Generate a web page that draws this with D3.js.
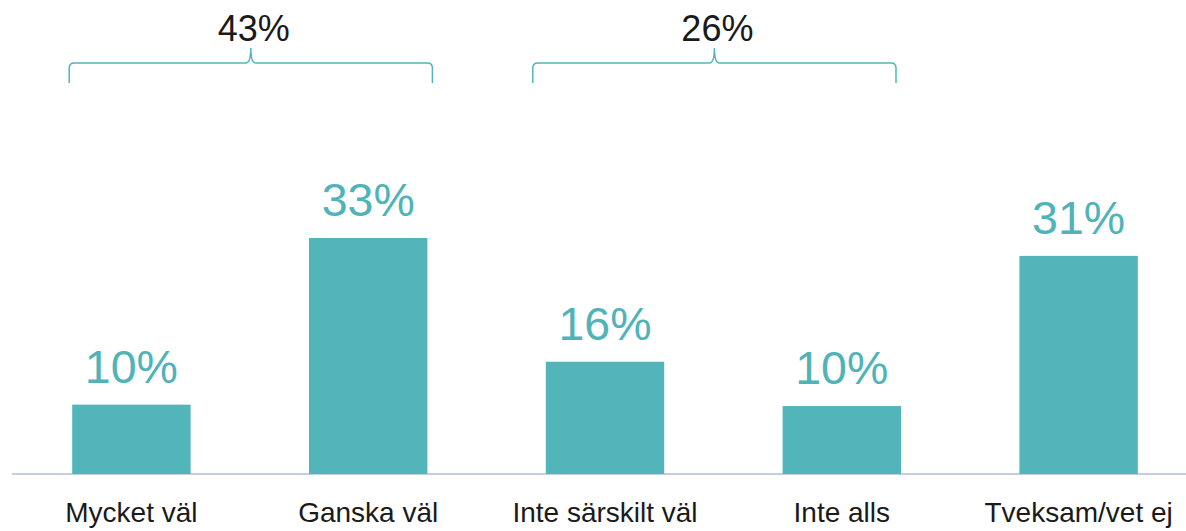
<!DOCTYPE html>
<meta charset="utf-8">
<style>
    body { margin: 0; background: #fff; font-family: "Liberation Sans", Arial, sans-serif; }
    .bar { fill: #52b5b9; }
    .value { fill: #4fb3b8; font-size: 46.5px; text-anchor: middle; }
    .cat { fill: #1a1a1a; font-size: 28px; text-anchor: middle; }
    .group { fill: #1a1a1a; font-size: 36px; text-anchor: middle; }
    .brace { fill: none; stroke: #52b5b9; stroke-width: 1.5px; }
    .baseline { stroke: #c3cfdf; stroke-width: 2px; }
</style>
<body>
<script src="https://cdnjs.cloudflare.com/ajax/libs/d3/7.8.5/d3.min.js"></script>
<script>
    // Data (bar lengths; labels are the rounded values)
    var categories = ["Mycket väl", "Ganska väl", "Inte särskilt väl", "Inte alls", "Tveksam/vet ej"];
    var values = [9.7, 33, 15.7, 9.5, 30.5];
    var labels = ["10%", "33%", "16%", "10%", "31%"];
    // Brackets over groups of categories
    var groupFrom = ["Mycket väl", "Inte särskilt väl"];
    var groupTo = ["Ganska väl", "Inte alls"];
    var groupLabels = ["43%", "26%"];

    var width = 1186, height = 531;
    var baseY = 474;
    // horizontal nudge of each bracket, as drawn in the original
    var braceShift = [0, -10];

    var svg = d3.select("body").append("svg")
        .attr("width", width)
        .attr("height", height);

    var x = d3.scaleBand()
        .domain(categories)
        .range([13, 1197])
        .paddingInner(0.5)
        .paddingOuter(0.25);

    var y = d3.scaleLinear()
        .domain([0, 33])
        .range([baseY, 238]);

    // Axis line
    svg.append("line")
        .attr("class", "baseline")
        .attr("x1", 12)
        .attr("x2", width)
        .attr("y1", baseY)
        .attr("y2", baseY);

    // Bars
    svg.selectAll("rect.bar")
        .data(values)
        .enter().append("rect")
        .attr("class", "bar")
        .attr("x", function (d, i) { return x(categories[i]); })
        .attr("width", x.bandwidth())
        .attr("y", function (d) { return y(d); })
        .attr("height", function (d) { return baseY - y(d); });

    // Value labels
    svg.selectAll("text.value")
        .data(values)
        .enter().append("text")
        .attr("class", "value")
        .attr("x", function (d, i) { return x(categories[i]) + x.bandwidth() / 2; })
        .attr("y", function (d) { return y(d) - 22; })
        .text(function (d, i) { return labels[i]; });

    // Category labels
    svg.selectAll("text.cat")
        .data(categories)
        .enter().append("text")
        .attr("class", "cat")
        .attr("x", function (d) { return x(d) + x.bandwidth() / 2; })
        .attr("y", 522)
        .text(function (d) { return d; });

    // Curly brackets
    function bracePath(x1, x2, yLine) {
        var m = (x1 + x2) / 2, r = 5;
        return "M" + x1 + "," + (yLine + 20) +
            " L" + x1 + "," + (yLine + r) +
            " Q" + x1 + "," + yLine + " " + (x1 + r) + "," + yLine +
            " L" + (m - r) + "," + yLine +
            " Q" + m + "," + yLine + " " + m + "," + (yLine - r - 10) +
            " Q" + m + "," + yLine + " " + (m + r) + "," + yLine +
            " L" + (x2 - r) + "," + yLine +
            " Q" + x2 + "," + yLine + " " + x2 + "," + (yLine + r) +
            " L" + x2 + "," + (yLine + 20);
    }

    groupLabels.forEach(function (label, i) {
        var x1 = x(groupFrom[i]) - 3 + braceShift[i];
        var x2 = x(groupTo[i]) + x.bandwidth() + 5 + braceShift[i];
        svg.append("path")
            .attr("class", "brace")
            .attr("d", bracePath(x1, x2, 63));
        svg.append("text")
            .attr("class", "group")
            .attr("x", (x1 + x2) / 2 + 3)
            .attr("y", 41)
            .text(label);
    });
</script>
</body>
